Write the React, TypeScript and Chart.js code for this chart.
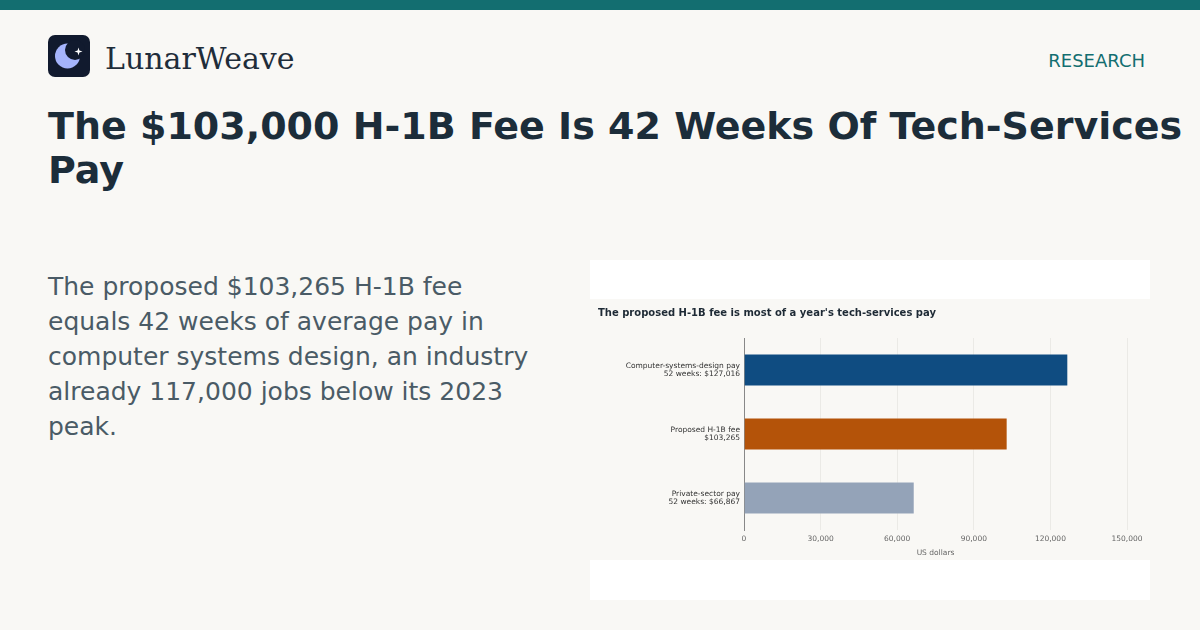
import React, { useEffect, useRef } from "react";
import { Chart, registerables } from "chart.js";

Chart.register(...registerables);

const categories: string[][] = [
  ["Computer-systems-design pay", "52 weeks: $127,016"],
  ["Proposed H-1B fee", "$103,265"],
  ["Private-sector pay", "52 weeks: $66,867"],
];
const values: number[] = [127016, 103265, 66867];
const barColors: string[] = ["#0f4c81", "#b45309", "#94a3b8"];
const xTicks: number[] = [0, 30000, 60000, 90000, 120000, 150000];
const chartTitle = "The proposed H-1B fee is most of a year's tech-services pay";
const xAxisTitle = "US dollars";

const PAGE_BG = "#f9f8f5";

function BarChart() {
  const ref = useRef<HTMLCanvasElement | null>(null);
  useEffect(() => {
    if (!ref.current) return;
    const chart = new Chart(ref.current, {
      type: "bar",
      data: {
        labels: categories,
        datasets: [
          {
            data: values,
            backgroundColor: barColors,
            borderColor: "rgba(255,255,255,0.3)",
            borderWidth: 1,
            categoryPercentage: 0.8,
            barPercentage: 0.64,
          },
        ],
      },
      options: {
        indexAxis: "y",
        animation: false,
        responsive: true,
        maintainAspectRatio: false,
        devicePixelRatio: 1,
        layout: { padding: { left: 8, right: 23, top: 6, bottom: 2 } },
        plugins: {
          legend: { display: false },
          tooltip: { enabled: false },
          title: {
            display: true,
            text: chartTitle,
            align: "start",
            color: "#1e2a35",
            font: { family: "DejaVu Sans", size: 10, weight: "bold" },
            padding: { top: 2, bottom: 19 },
          },
        },
        scales: {
          x: {
            min: xTicks[0],
            max: xTicks[xTicks.length - 1],
            afterBuildTicks: (s: any) => {
              s.ticks = xTicks.map((v) => ({ value: v }));
            },
            afterFit: (s: any) => {
              s.height = 28;
            },
            ticks: {
              color: "#666",
              font: { family: "DejaVu Sans", size: 7.5 },
              padding: 5,
              callback: (v: any) => Number(v).toLocaleString("en-US"),
            },
            grid: { color: "#ebeae6", drawTicks: false },
            border: { display: false },
            title: {
              display: true,
              text: xAxisTitle,
              color: "#666",
              font: { family: "DejaVu Sans", size: 7.5 },
              padding: { top: 3, bottom: 0 },
            },
          },
          y: {
            afterFit: (s: any) => {
              s.width = 146;
            },
            ticks: {
              color: "#333",
              font: { family: "DejaVu Sans", size: 7.5, lineHeight: 1 },
              padding: 4,
            },
            grid: { display: false, drawTicks: false },
            border: { display: true, color: "#888", width: 1 },
          },
        },
      },
    });
    return () => chart.destroy();
  }, []);
  return <canvas ref={ref} />;
}

export default function App() {
  return (
    <div
      style={{
        position: "fixed",
        left: 0,
        top: 0,
        width: 1200,
        height: 630,
        background: PAGE_BG,
        overflow: "hidden",
        fontFamily: "DejaVu Sans, sans-serif",
      }}
    >
      <div style={{ position: "absolute", left: 0, top: 0, width: 1200, height: 10, background: "#136e70" }} />
      <svg style={{ position: "absolute", left: 48, top: 35 }} width={42} height={42} viewBox="0 0 42 42">
        <rect x={0} y={0} width={42} height={42} rx={7} fill="#111a2e" />
        <circle cx={19.5} cy={21} r={12.5} fill="#a5b4fc" />
        <circle cx={27} cy={15} r={10} fill="#111a2e" />
        <path d="M30.5 12.5 L31.4 15.6 L34.5 16.5 L31.4 17.4 L30.5 20.5 L29.6 17.4 L26.5 16.5 L29.6 15.6 Z" fill="#ffffff" />
      </svg>
      <div
        style={{
          position: "absolute",
          left: 105,
          top: 39,
          fontFamily: "DejaVu Serif, serif",
          fontSize: 30,
          lineHeight: "40px",
          color: "#1f2d3a",
        }}
      >
        LunarWeave
      </div>
      <div
        style={{
          position: "absolute",
          right: 55,
          top: 49,
          fontSize: 18,
          lineHeight: "24px",
          color: "#136e70",
        }}
      >
        RESEARCH
      </div>
      <div
        style={{
          position: "absolute",
          left: 48,
          top: 104,
          width: 1140,
          fontSize: 38,
          fontWeight: "bold",
          lineHeight: "44px",
          color: "#1c2d3a",
        }}
      >
        The $103,000 H-1B Fee Is 42 Weeks Of Tech-Services Pay
      </div>
      <div
        style={{
          position: "absolute",
          left: 48,
          top: 269,
          width: 492,
          fontSize: 25,
          lineHeight: "35px",
          color: "#4a5b66",
        }}
      >
        The proposed $103,265 H-1B fee equals 42 weeks of average pay in computer systems design, an industry already 117,000 jobs below its 2023 peak.
      </div>
      <div
        style={{
          position: "absolute",
          left: 590,
          top: 260,
          width: 560,
          height: 340,
          background: "#ffffff",
        }}
      >
        <div style={{ position: "absolute", left: 0, top: 39, width: 560, height: 261, background: PAGE_BG }}>
          <BarChart />
        </div>
      </div>
    </div>
  );
}
